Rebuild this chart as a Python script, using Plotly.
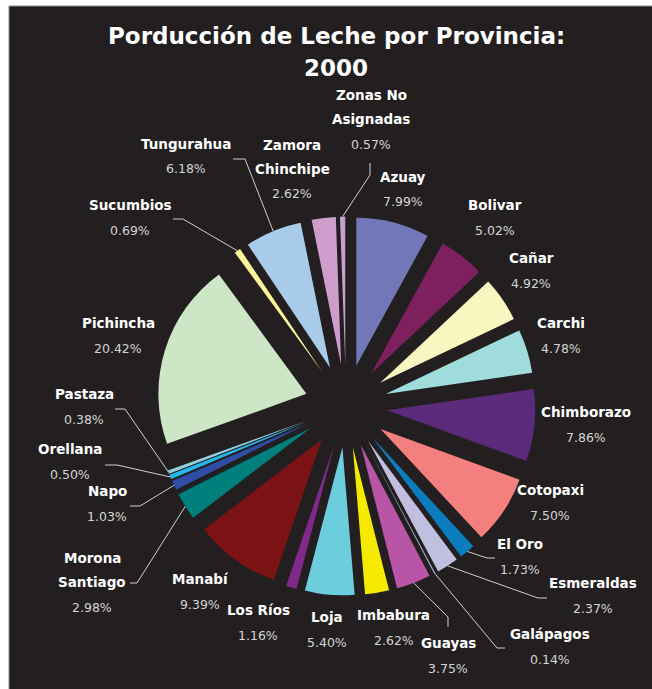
import math
import plotly.graph_objects as go

# ---------------- data ----------------
provinces = ["Azuay", "Bolivar", "Cañar", "Carchi", "Chimborazo", "Cotopaxi",
             "El Oro", "Esmeraldas", "Galápagos", "Guayas", "Imbabura", "Loja",
             "Los Ríos", "Manabí", "Morona Santiago", "Napo", "Orellana",
             "Pastaza", "Pichincha", "Sucumbios", "Tungurahua",
             "Zamora Chinchipe", "Zonas No Asignadas"]
shares = [7.99, 5.02, 4.92, 4.78, 7.86, 7.50, 1.73, 2.37, 0.14, 3.75, 2.62,
          5.40, 1.16, 9.39, 2.98, 1.03, 0.50, 0.38, 20.42, 0.69, 6.18, 2.62, 0.57]
title_lines = ["Porducción de Leche por Provincia:", "2000"]

# ---------------- styles ----------------
colors = ["#7277b8", "#7e1f5e", "#faf6c0", "#a0dcdc", "#5c2a7a", "#f47f7f",
          "#0b7dbf", "#c0bfe0", "#9aa9c9", "#b955a6", "#f5ea00", "#6ccddc",
          "#7f2a8a", "#7b1315", "#00807c", "#2f4da5", "#27b8ea", "#8fd3e0",
          "#cde6c5", "#fbf49a", "#a9cbea", "#cf9dcb", "#c8a0cc"]

W, H = 652, 689
CX, CY, R, PULL = 346, 406, 148, 0.28
BG = "#231f20"
FONT = "DejaVu Sans"

# label layout (page pixel positions: center x, first-line y)
label_pos = {
    "Azuay": (403, 177), "Bolivar": (495, 205), "Cañar": (531, 258),
    "Carchi": (561, 323), "Chimborazo": (586, 412), "Cotopaxi": (550, 490),
    "El Oro": (520, 544), "Esmeraldas": (593, 583), "Galápagos": (550, 634),
    "Guayas": (448, 643), "Imbabura": (394, 615), "Loja": (327, 617),
    "Los Ríos": (258, 610), "Manabí": (200, 579), "Morona Santiago": (92, 558),
    "Napo": (107, 491), "Orellana": (70, 449), "Pastaza": (84, 394),
    "Pichincha": (118, 323), "Sucumbios": (130, 205), "Tungurahua": (186, 144),
    "Zamora Chinchipe": (292, 145), "Zonas No Asignadas": (371, 95),
}
wrap = {"Zonas No Asignadas": ["Zonas No", "Asignadas"],
        "Zamora Chinchipe": ["Zamora", "Chinchipe"],
        "Morona Santiago": ["Morona", "Santiago"]}
# leader lines: elbow point and end point (page pixels)
leaders = {
    "Zonas No Asignadas": ((370, 175), (370, 163)),
    "Tungurahua": ((245, 159), (233, 159)),
    "Sucumbios": ((183, 219), (173, 219)),
    "Pastaza": ((125, 409), (115, 409)),
    "Orellana": ((117, 465), (105, 465)),
    "Napo": ((140, 506), (130, 506)),
    "Morona Santiago": ((137, 583), (130, 583)),
    "El Oro": ((487, 558), (495, 558)),
    "Esmeraldas": ((538, 598), (547, 598)),
    "Galápagos": ((497, 648), (505, 648)),
    "Guayas": ((448, 617), (448, 627)),
}


def px(x):
    return x / W


def py(y):
    return 1 - y / H


outer = R * (1 + PULL)
fig = go.Figure(go.Pie(
    labels=provinces, values=shares, sort=False, direction="clockwise",
    rotation=0, pull=[PULL] * len(shares), textinfo="none",
    marker=dict(colors=colors, line=dict(width=0)),
    domain=dict(x=[px(CX - outer), px(CX + outer)], y=[py(CY + outer), py(CY - outer)]),
    showlegend=False, hoverinfo="label+percent",
))

shapes = [dict(type="rect", xref="paper", yref="paper", x0=px(9), x1=1.01, y0=-0.01, y1=py(6),
               fillcolor=BG, line=dict(color="#8a8a8a", width=1), layer="below")]
annotations = []

for i, t in enumerate(title_lines):
    annotations.append(dict(x=px(336), y=py(36 + 32 * i), xref="paper", yref="paper",
                            text=f"<b>{t}</b>", showarrow=False,
                            font=dict(family=FONT, size=23, color="white"),
                            xanchor="center", yanchor="middle"))

total = sum(shares)
cum = 0.0
mid_angle = {}
for name, v in zip(provinces, shares):
    mid_angle[name] = (cum + v / 2) / total * 2 * math.pi
    cum += v

for name, v in zip(provinces, shares):
    x, y = label_pos[name]
    lines = wrap.get(name, [name])
    for i, ln in enumerate(lines):
        annotations.append(dict(x=px(x), y=py(y + 24 * i), xref="paper", yref="paper",
                                text=f"<b>{ln}</b>", showarrow=False,
                                font=dict(family=FONT, size=13.5, color="white"),
                                xanchor="center", yanchor="middle"))
    annotations.append(dict(x=px(x), y=py(y + 24 * (len(lines) - 1) + 25),
                            xref="paper", yref="paper", text=f"{v:.2f}%",
                            showarrow=False,
                            font=dict(family=FONT, size=12.5, color="#d4d4d4"),
                            xanchor="center", yanchor="middle"))
    if name in leaders:
        a = mid_angle[name]
        sx = CX + outer * math.sin(a)
        sy = CY - outer * math.cos(a)
        (ex, ey), (fx, fy) = leaders[name]
        path = f"M {px(sx)},{py(sy)} L {px(ex)},{py(ey)} L {px(fx)},{py(fy)}"
        shapes.append(dict(type="path", xref="paper", yref="paper", path=path,
                           line=dict(color="#d0d0d0", width=1), layer="above"))

fig.update_layout(
    width=W, height=H, margin=dict(l=0, r=0, t=0, b=0),
    paper_bgcolor="white", plot_bgcolor="white",
    shapes=shapes, annotations=annotations,
)

fig.write_html("out.html", config={"displayModeBar": False},
               post_script="document.body.style.margin='0';document.body.style.overflow='hidden';")
